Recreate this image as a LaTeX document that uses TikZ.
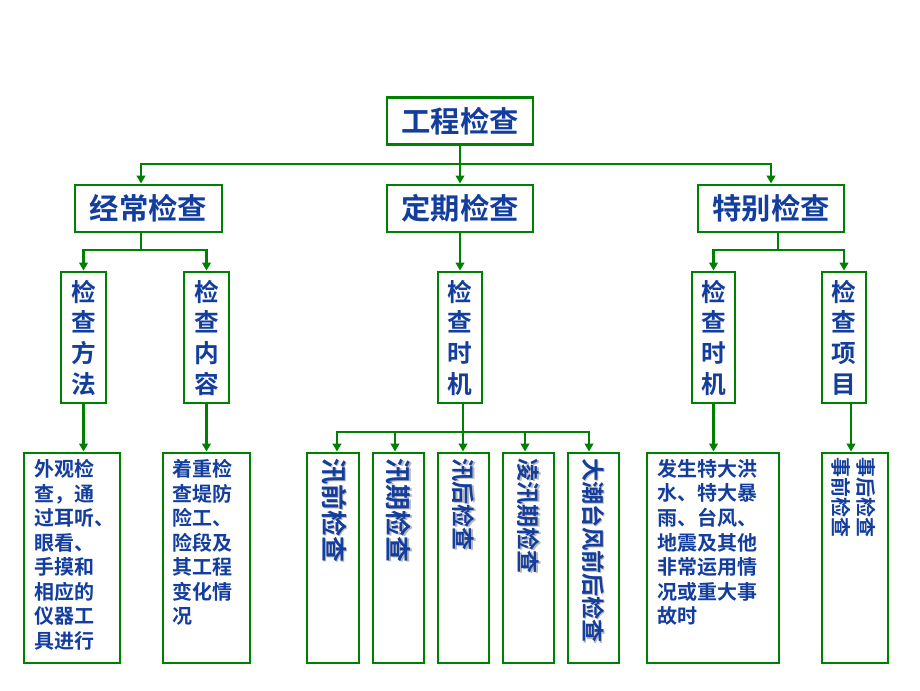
\documentclass[tikz,border=0pt]{standalone}
\usepackage{fontspec}
\setmainfont{Noto Sans CJK SC Bold}
\usetikzlibrary{arrows.meta,calc}
\definecolor{grn}{RGB}{0,128,0}
\definecolor{txt}{RGB}{20,62,158}
\tikzset{
  box/.style={draw=grn, line width=2.2pt, fill=white, inner sep=0pt, text=txt},
  ln/.style={draw=grn, line width=2pt},
  arr/.style={ln, -{Triangle[width=6.5pt,length=6pt]}},
  big/.style={font=\fontsize{22pt}{26pt}\selectfont},
  mid/.style={font=\fontsize{18.5pt}{23pt}\selectfont, align=center},
  small/.style={font=\fontsize{15pt}{18.4pt}\selectfont, align=left, anchor=north west, inner sep=0pt, text=txt},
  rot/.style={rotate=-90, anchor=west, inner sep=0pt, text=txt},
  shd/.style={rotate=-90, anchor=west, inner sep=0pt, text=black!28},
}
\begin{document}
\begin{tikzpicture}[x=0.75pt,y=-0.75pt]
\useasboundingbox (0,0) rectangle (920,690);
% level 1 & 2
\node[box,big,minimum width=146*0.75pt,minimum height=47*0.75pt] (top) at (460,121) {工程检查};
\node[box,big,minimum width=147*0.75pt,minimum height=47*0.75pt] (jc) at (148.5,208.5) {经常检查};
\node[box,big,minimum width=146*0.75pt,minimum height=47*0.75pt] (dq) at (460,208.5) {定期检查};
\node[box,big,minimum width=146*0.75pt,minimum height=47*0.75pt] (tb) at (771,208.5) {特别检查};
% level 3
\node[box,mid,minimum width=45*0.75pt,minimum height=131*0.75pt] (ff) at (83.5,337.5) {检\\查\\方\\法};
\node[box,mid,minimum width=45*0.75pt,minimum height=131*0.75pt] (nr) at (206.5,337.5) {检\\查\\内\\容};
\node[box,mid,minimum width=44*0.75pt,minimum height=131*0.75pt] (sj) at (460,337.5) {检\\查\\时\\机};
\node[box,mid,minimum width=43*0.75pt,minimum height=131*0.75pt] (sj2) at (713.5,337.5) {检\\查\\时\\机};
\node[box,mid,minimum width=44*0.75pt,minimum height=131*0.75pt] (xm) at (844,337.5) {检\\查\\项\\目};
% level 4 boxes
\node[box,minimum width=96*0.75pt,minimum height=210*0.75pt] (wg) at (72,558) {};
\node[box,minimum width=87*0.75pt,minimum height=210*0.75pt] (zz) at (206.5,558) {};
\node[box,minimum width=52*0.75pt,minimum height=210*0.75pt] (x1) at (333,558) {};
\node[box,minimum width=51*0.75pt,minimum height=210*0.75pt] (x2) at (398.5,558) {};
\node[box,minimum width=51*0.75pt,minimum height=210*0.75pt] (x3) at (463.5,558) {};
\node[box,minimum width=51*0.75pt,minimum height=210*0.75pt] (x4) at (528.5,558) {};
\node[box,minimum width=51*0.75pt,minimum height=210*0.75pt] (x5) at (593.5,558) {};
\node[box,minimum width=132*0.75pt,minimum height=210*0.75pt] (fs) at (713,558) {};
\node[box,minimum width=66*0.75pt,minimum height=210*0.75pt] (sx) at (855,558) {};
% level 4 texts
\node[small] (twg) at (34,459) {外观检\\查，通\\过耳听、\\眼看、\\手摸和\\相应的\\仪器工\\具进行};
\node[small] (tzz) at (172,459) {着重检\\查堤防\\险工、\\险段及\\其工程\\变化情\\况};
\node[small] (tfs) at (657,459) {发生特大洪\\水、特大暴\\雨、台风、\\地震及其他\\非常运用情\\况或重大事\\故时};
\node[small,rotate=-90] (tsx) at (876,457) {事后检查\\事前检查};
% rotated texts with shadow
\node[shd,font=\fontsize{19.5pt}{20pt}\selectfont] (s1) at (335.3,459.3) {汛前检查};
\node[rot,font=\fontsize{19.5pt}{20pt}\selectfont] (t1) at (334,458) {汛前检查};
\node[shd,font=\fontsize{19.5pt}{20pt}\selectfont] (s2) at (399.8,459.3) {汛期检查};
\node[rot,font=\fontsize{19.5pt}{20pt}\selectfont] (t2) at (398.5,458) {汛期检查};
\node[shd,font=\fontsize{17.3pt}{20pt}\selectfont] (s3) at (464.8,459.3) {汛后检查};
\node[rot,font=\fontsize{17.3pt}{20pt}\selectfont] (t3) at (463.5,458) {汛后检查};
\node[shd,font=\fontsize{17.3pt}{20pt}\selectfont] (s4) at (529.8,459.3) {凌汛期检查};
\node[rot,font=\fontsize{17.3pt}{20pt}\selectfont] (t4) at (528.5,458) {凌汛期检查};
\node[shd,font=\fontsize{17.3pt}{20pt}\selectfont] (s5) at (594.8,459.3) {大潮台风前后检查};
\node[rot,font=\fontsize{17.3pt}{20pt}\selectfont] (t5) at (593.5,458) {大潮台风前后检查};
% connectors level 1 -> 2
\coordinate (b0) at (460,164);
\draw[arr] (top.south) -- (dq.north);
\draw[arr] (b0) -| ($(jc.north)+(-7.5,0)$);
\draw[arr] (b0) -| (tb.north);
% level 2 -> 3
\coordinate (b1) at (141,250);
\draw[ln] ($(jc.south)+(-7.5,0)$) -- (b1);
\draw[arr] (b1) -| (ff.north);
\draw[arr] (b1) -| (nr.north);
\draw[arr] (dq.south) -- (sj.north);
\coordinate (b2) at (778,250);
\draw[ln] ($(tb.south)+(7,0)$) -- (b2);
\draw[arr] (b2) -| (sj2.north);
\draw[arr] (b2) -| (xm.north);
% level 3 -> 4
\draw[arr] (ff.south) -- (ff.south |- wg.north);
\draw[arr] (nr.south) -- (zz.north);
\coordinate (b3) at (463,432);
\draw[ln] ($(sj.south)+(3,0)$) -- (b3);
\draw[arr] (b3) -| ($(x1.north)+(4,0)$);
\draw[arr] (b3) -| ($(x2.north)+(-3.5,0)$);
\draw[arr] (b3) -- ($(x3.north)+(-0.5,0)$);
\draw[arr] (b3) -| ($(x4.north)+(-3.5,0)$);
\draw[arr] (b3) -| ($(x5.north)+(-4.5,0)$);
\draw[arr] (sj2.south) -- (sj2.south |- fs.north);
\coordinate (xmo) at ($(xm.south)+(7,0)$);
\draw[arr] (xmo) -- (xmo |- sx.north);
\end{tikzpicture}
\end{document}
